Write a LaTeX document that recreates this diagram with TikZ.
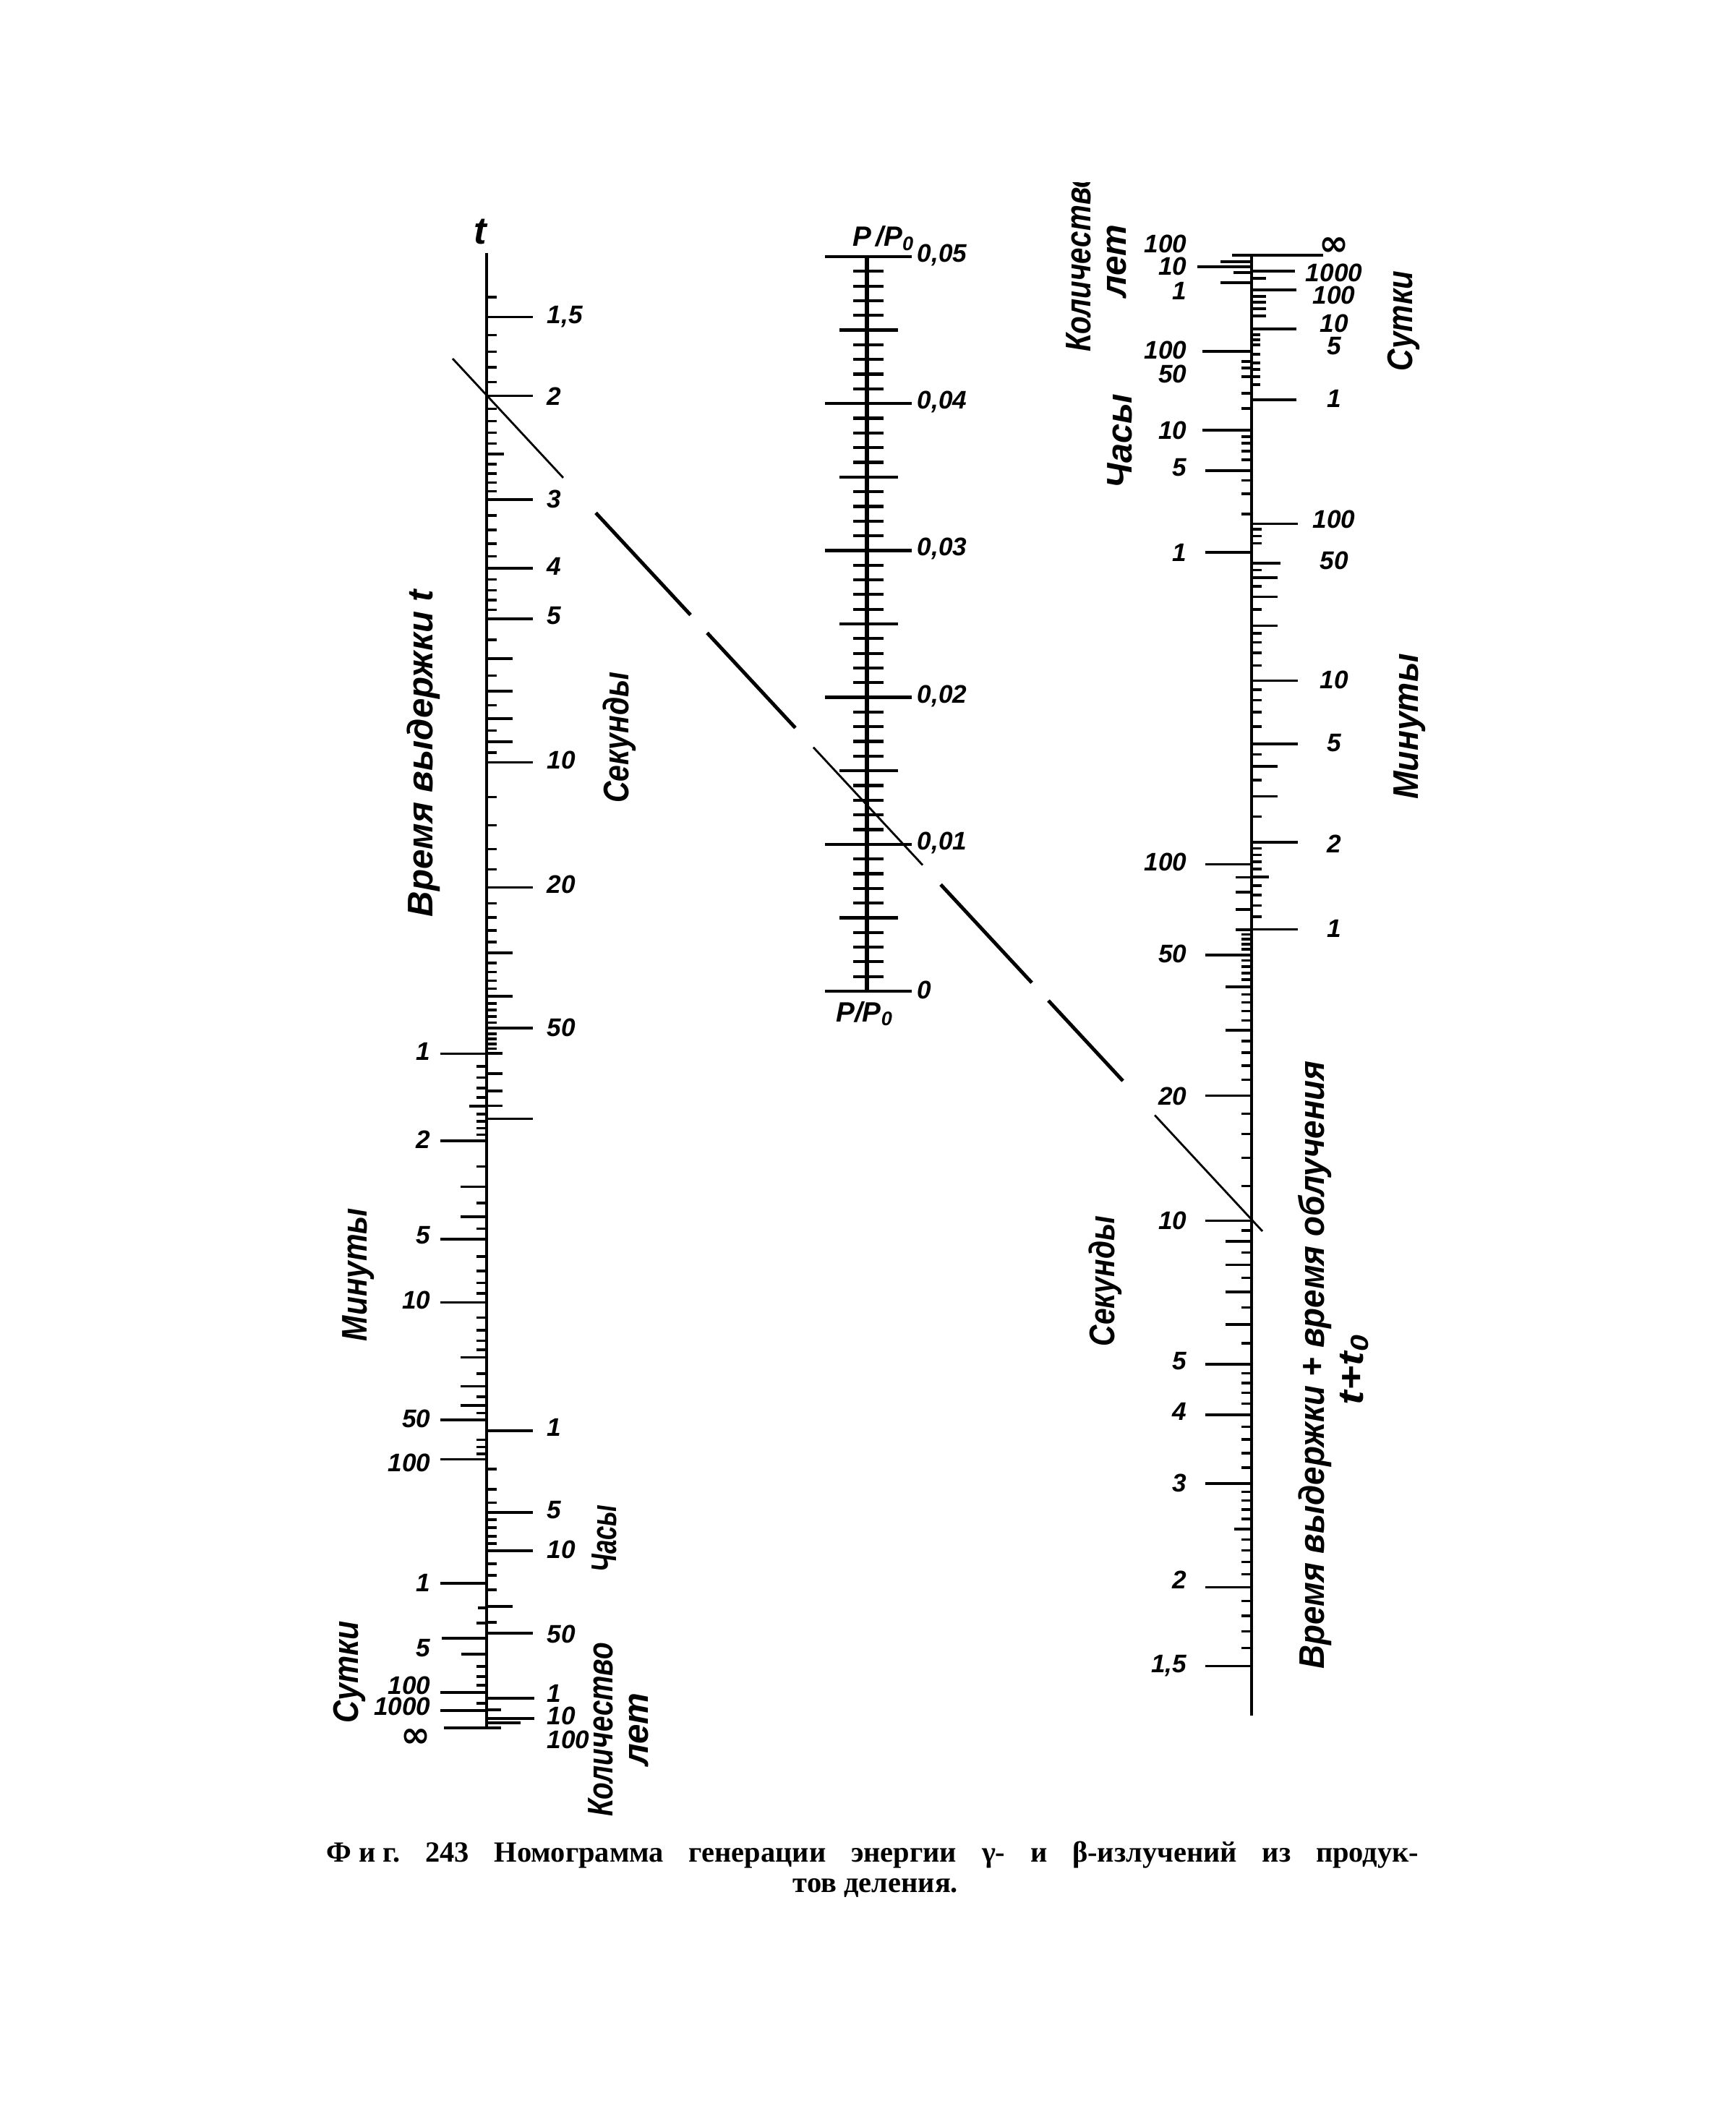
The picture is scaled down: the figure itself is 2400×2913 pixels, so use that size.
\documentclass[tikz,border=0pt]{standalone}
\usepackage{fontspec}
\usepackage{graphicx}
\usetikzlibrary{calc}
\newfontfamily\labfont{Liberation Sans}
\newfontfamily\capfont{Liberation Serif}
\newfontfamily\symfont{DejaVu Sans}
\newcommand\fitto[2]{\resizebox{#1}{\height}{#2}}
\newcommand\infsign{{\symfont\bfseries\fontsize{14}{14}\selectfont ∞}}
% ticks of the time scales, same value on both outer axes
\newcommand\ticksby[3]{%
  \foreach \tval/\tlen in #1 {
    \pgfmathsetmacro\dpos{#2*exp(-0.2*ln(\tval))}
    \draw[tick] (673,2390-\dpos) -- ++({#3*\tlen},0);
    \draw[tick] (1731,353+\dpos) -- ++({-1*(#3)*\tlen},0);
  }}
\def\seclist{1.6/14,1.7/14,1.8/14,1.9/14,2.1/14,2.2/14,2.3/14,2.4/14,2.5/24,2.6/14,2.7/14,2.8/14,2.9/14,3.2/14,3.4/14,3.6/14,3.8/14,4.2/14,4.4/14,4.6/14,4.8/14,5.5/14,6/36,6.5/14,7/36,7.5/14,8/36,8.5/14,9/36,9.5/14,12/14,14/14,16/14,18/14,22/14,24/14,26/14,28/14,30/36,32/14,34/14,36/14,38/14,40/36,42/14,44/14,46/14,48/14,52/14,54/14,56/14,58/14,60/22,70/22,80/22,90/22,1.5/64,2/64,3/64,4/64,5/64,10/64,20/64,50/64,100/64}
\def\minlist{1.1/14,1.2/14,1.3/14,1.4/14,1.5/24,1.6/14,1.7/14,1.8/14,1.9/14,2.5/14,3/36,3.5/14,4/36,4.5/14,6/14,7/14,8/14,9/14,12/14,14/14,16/14,18/14,20/36,25/14,30/36,35/14,40/36,45/14,70/14,80/14,90/14,1/64,2/64,5/64,10/64,100/64}
\def\hourlist{2/14,3/14,4/14,1/64,5/64}
\tikzset{
  tick/.style={line width=1pt},
  axisline/.style={line width=1.4pt},
  mtick/.style={line width=1.2pt},
  idxthin/.style={line width=0.8pt},
  idxthick/.style={line width=1.4pt},
  num/.style={font=\labfont\bfseries\itshape, inner sep=0pt},
  ttl/.style={font=\labfont\bfseries\itshape\fontsize{14}{14}\selectfont, rotate=90, inner sep=0pt},
  capt/.style={font=\capfont\bfseries\fontsize{11.5}{13}\selectfont\frenchspacing, inner sep=0pt}
}
\begin{document}
\begin{tikzpicture}[x=0.01cm, y=-0.01cm]
  \fill[white] (0,0) rectangle (2400,2913);
  \useasboundingbox (0,0) rectangle (2400,2913);

  % axes
  \draw[axisline] (673,350) -- (673,2390);
  \draw[axisline] (1731,353) -- (1731,2373);
  \draw[line width=1.6pt] (1199,355) -- (1199,1371);

  % time scales
  \ticksby{\seclist}{2116}{1}
  \ticksby{\minlist}{932.5}{-1}
  \ticksby{\hourlist}{411}{1}
  \draw[tick] (673,1964) -- ++(-64,0);
  \draw[tick] (1731,779) -- ++(40,0);
  \draw[tick] (673,411) -- ++(14,0);
  \foreach \y/\tlen in {2102/14,2113/14,2125/14,2135/14,2145/64,2163/14,2179/14,2199/14,2222/36,2244/14,2259/64,2349/66,2365/20,2377/66,2383/47,2190/-64,2224/-12,2245/-14,2266/-62,2288/-35,2305/-14,2319/-14,2331/-14,2341/-64,2356/-14,2366/-64}
    \draw[tick] (673,\y) -- ++(\tlen,0);
  \draw[tick] (614,2390) -- (693,2390);
  \foreach \y/\tlen in {636/-14,624/-14,613/-14,604/-14,595/-68,565/-14,544/-14,521/-14,509/-14,500/-14,486/-68,391/-43,377/-25,369/-75,362/-43,553/62,532/12,521/12,511/12,502/12,490/12,477/12,470/12,463/12,455/62,437/20,427/20,418/20,410/20,401/62,385/20,375/60}
    \draw[tick] (1731,\y) -- ++(\tlen,0);
  \draw[tick] (1704,353) -- (1830,353);

  % P/P0 scale
  \foreach \k in {0,...,50} {
    \pgfmathsetmacro\ya{1371-20.32*\k}
    \pgfmathsetmacro\la{mod(\k,10)==0 ? 58 : (mod(\k,5)==0 ? 38 : 19)}
    \pgfmathsetmacro\ra{mod(\k,10)==0 ? 62 : (mod(\k,5)==0 ? 43 : 23)}
    \draw[mtick] (1199-\la,\ya) -- (1199+\ra,\ya);
  }
  \foreach \k/\txt [count=\cnt] in {50/{0,05},40/{0,04},30/{0,03},20/{0,02},10/{0,01},0/0}
    \node[num, anchor=west] (pv\cnt) at (1268,1369-20.32*\k) {\txt};
  \node[num, font=\labfont\bfseries\itshape\fontsize{11}{11}\selectfont] (pp1) at (1222,330) {P\,/P\textsubscript{0}};
  \node[num, font=\labfont\bfseries\itshape\fontsize{11}{11}\selectfont] (pp2) at (1196,1402) {P/P\textsubscript{0}};

  % numbers
  \foreach \y/\txt [count=\cnt] in {438/{1,5},548/2,690/3,783/4,852/5,1051/10,1223/20,1421/50,1974/1,2089/5,2143/10,2260/50,2342/1,2373/10,2406/100}
    \node[num, anchor=west] (lr\cnt) at (756,\y) {\txt};
  \foreach \y/\txt [count=\cnt] in {1454/1,1576/2,1709/5,1798/10,1962/50,2023/100,2189/1,2280/5,2331/100,2360/1000}
    \node[num, anchor=east] (ll\cnt) at (596,\y) {\txt};
  \node[num, anchor=east] (linf) at (596,2404) {\infsign};
  \foreach \y/\txt [count=\cnt] in {337/100,368/10,402/1,484/100,517/50,595/10,647/5,764/1,1192/100,1319/50,1516/20,1688/10,1883/5,1952/4,2051/3,2185/2,2304/{1,5}}
    \node[num, anchor=east] (rl\cnt) at (1642,\y) {\txt};
  \foreach \y/\txt [count=\cnt] in {341/\infsign,377/1000,408/100,447/10,479/5,551/1,718/100,775/50,940/10,1028/5,1167/2,1284/1}
    \node[num] (rr\cnt) at (1845,\y) {\txt};
  \node[num, font=\labfont\bfseries\itshape\fontsize{15}{15}\selectfont] (tlab) at (664,321) {t};

  % titles
  \node[ttl] (tl) at (586,1042) {\fitto{4.52cm}{Время выдержки t}};
  \node[ttl] (sl) at (857,1020) {\fitto{1.81cm}{Секунды}};
  \node[ttl] (ml) at (496,1763) {\fitto{1.84cm}{Минуты}};
  \node[ttl] (hl) at (836,2128) {\fitto{0.93cm}{Часы}};
  \node[ttl] (dl) at (483,2313) {\fitto{1.41cm}{Сутки}};
  \node[ttl, align=center] (yl) at (855,2392) {\fitto{2.40cm}{Количество}\\лет};
  \begin{scope}
    \clip (1400,253) rectangle (1650,560);
    \node[ttl, align=center] (yr) at (1516,361) {\fitto{2.50cm}{Количество}\\лет};
  \end{scope}
  \node[ttl] (hr) at (1549,610) {\fitto{1.30cm}{Часы}};
  \node[ttl] (dr) at (1941,444) {\fitto{1.38cm}{Сутки}};
  \node[ttl] (mr) at (1950,1005) {\fitto{2.01cm}{Минуты}};
  \node[ttl] (sr) at (1529,1772) {\fitto{1.80cm}{Секунды}};
  \node[ttl] (tr) at (1819,1888) {\fitto{8.41cm}{Время выдержки + время облучения}};
  \node[ttl] (ttr) at (1873,1894) {\fitto{0.98cm}{t+t\textsubscript{0}}};

  % index line
  \coordinate (ia) at (626,496);
  \coordinate (ib) at (1746,1703);
  \foreach \s/\e/\w in {0/0.1366/idxthin,0.1768/0.2938/idxthick,0.3143/0.4232/idxthick,0.4455/0.5804/idxthin,0.6027/0.7152/idxthick,0.7357/0.8277/idxthick,0.8670/1/idxthin}
    \draw[\w] ($(ia)!\s!(ib)$) -- ($(ia)!\e!(ib)$);

  % caption
  \node[capt] (cap1) at (1207,2566) {\makebox[15.1cm][s]{Ф\kern.25em и\kern.25em г. 243 Номограмма генерации энергии γ- и β-излучений из продук-}};
  \node[capt] (cap2) at (1211,2611) {тов деления.};
\end{tikzpicture}
\end{document}
